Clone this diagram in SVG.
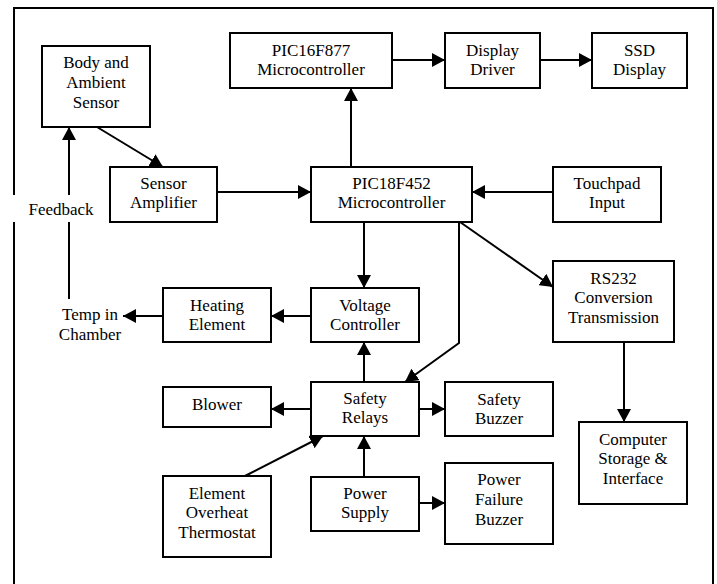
<svg xmlns="http://www.w3.org/2000/svg" width="717" height="584" viewBox="0 0 717 584">
<style>
.b{fill:#fff;stroke:#000;stroke-width:2}
.c{fill:none;stroke:#000;stroke-width:2}
</style>
<defs>
<marker id="a" viewBox="0 0 13 14" refX="13" refY="7" markerWidth="13" markerHeight="14" markerUnits="userSpaceOnUse" orient="auto">
<path d="M0,0 L13,7 L0,14 z" fill="#000"/>
</marker>
</defs>
<rect width="717" height="584" fill="#fff"/>
<path d="M14,584 L14,8 L713,8 L713,584" fill="none" stroke="#000" stroke-width="2"/>
<g id="connectors" class="c" marker-end="url(#a)">
<line x1="97" y1="127" x2="163" y2="167"/>
<line x1="69" y1="299" x2="69" y2="127"/>
<line x1="217" y1="192" x2="311" y2="192"/>
<line x1="553" y1="192" x2="472" y2="192"/>
<line x1="351" y1="167" x2="351" y2="88"/>
<line x1="392" y1="60" x2="445" y2="60"/>
<line x1="540" y1="60" x2="592" y2="60"/>
<line x1="364" y1="222" x2="364" y2="288"/>
<line x1="460" y1="222" x2="553" y2="287"/>
<polyline points="459,222 459,343 405,382"/>
<line x1="311" y1="316" x2="271" y2="316"/>
<line x1="163" y1="316" x2="123" y2="316"/>
<line x1="364" y1="382" x2="364" y2="342"/>
<line x1="311" y1="409" x2="271" y2="409"/>
<line x1="419" y1="409" x2="445" y2="409"/>
<line x1="245" y1="476" x2="323" y2="436"/>
<line x1="364" y1="477" x2="364" y2="436"/>
<line x1="419" y1="503" x2="445" y2="503"/>
<line x1="624" y1="342" x2="624" y2="422"/>
</g>
<g font-family="Liberation Serif, DejaVu Serif, serif" font-size="17" text-anchor="middle" fill="#000">
<g id="feedback">
<rect x="8" y="195" width="92" height="27" fill="#fff"/>
<text x="61" y="215">Feedback</text>
</g>
<g id="temp">
<text x="90" y="320">Temp in</text>
<text x="90" y="340">Chamber</text>
</g>
<g id="body">
<rect class="b" x="42" y="46" width="108" height="81"/>
<text x="96" y="68">Body and</text>
<text x="96" y="88">Ambient</text>
<text x="96" y="108">Sensor</text>
</g>
<g id="pic16">
<rect class="b" x="230" y="33" width="162" height="55"/>
<text x="311" y="55.5">PIC16F877</text>
<text x="311" y="74.5">Microcontroller</text>
</g>
<g id="driver">
<rect class="b" x="445" y="33" width="95" height="55"/>
<text x="492.5" y="55.5">Display</text>
<text x="492.5" y="74.5">Driver</text>
</g>
<g id="ssd">
<rect class="b" x="592" y="33" width="95" height="55"/>
<text x="639.5" y="55.5">SSD</text>
<text x="639.5" y="74.5">Display</text>
</g>
<g id="amp">
<rect class="b" x="110" y="167" width="107" height="55"/>
<text x="163.5" y="189">Sensor</text>
<text x="163.5" y="208">Amplifier</text>
</g>
<g id="pic18">
<rect class="b" x="311" y="167" width="161" height="55"/>
<text x="391.5" y="189">PIC18F452</text>
<text x="391.5" y="208">Microcontroller</text>
</g>
<g id="touchpad">
<rect class="b" x="553" y="167" width="108" height="55"/>
<text x="607" y="189">Touchpad</text>
<text x="607" y="208">Input</text>
</g>
<g id="heating">
<rect class="b" x="163" y="288" width="108" height="54"/>
<text x="217" y="310.5">Heating</text>
<text x="217" y="330">Element</text>
</g>
<g id="voltage">
<rect class="b" x="311" y="288" width="108" height="54"/>
<text x="365" y="310.5">Voltage</text>
<text x="365" y="330">Controller</text>
</g>
<g id="rs232">
<rect class="b" x="553" y="261" width="121" height="81"/>
<text x="613.5" y="283.5">RS232</text>
<text x="613.5" y="303">Conversion</text>
<text x="613.5" y="322.5">Transmission</text>
</g>
<g id="blower">
<rect class="b" x="163" y="387" width="108" height="40"/>
<text x="217" y="409.5">Blower</text>
</g>
<g id="relays">
<rect class="b" x="311" y="382" width="108" height="54"/>
<text x="365" y="404">Safety</text>
<text x="365" y="423">Relays</text>
</g>
<g id="sbuzzer">
<rect class="b" x="445" y="382" width="108" height="54"/>
<text x="499" y="404.5">Safety</text>
<text x="499" y="423.5">Buzzer</text>
</g>
<g id="thermostat">
<rect class="b" x="163" y="476" width="108" height="81"/>
<text x="217" y="498.5">Element</text>
<text x="217" y="518">Overheat</text>
<text x="217" y="537.5">Thermostat</text>
</g>
<g id="power">
<rect class="b" x="311" y="477" width="108" height="54"/>
<text x="365" y="499">Power</text>
<text x="365" y="518">Supply</text>
</g>
<g id="pfbuzzer">
<rect class="b" x="445" y="463" width="108" height="81"/>
<text x="499" y="485">Power</text>
<text x="499" y="505">Failure</text>
<text x="499" y="525">Buzzer</text>
</g>
<g id="computer">
<rect class="b" x="579" y="422" width="108" height="82"/>
<text x="633" y="445">Computer</text>
<text x="633" y="464">Storage &amp;</text>
<text x="633" y="483.5">Interface</text>
</g>
</g>
</svg>
